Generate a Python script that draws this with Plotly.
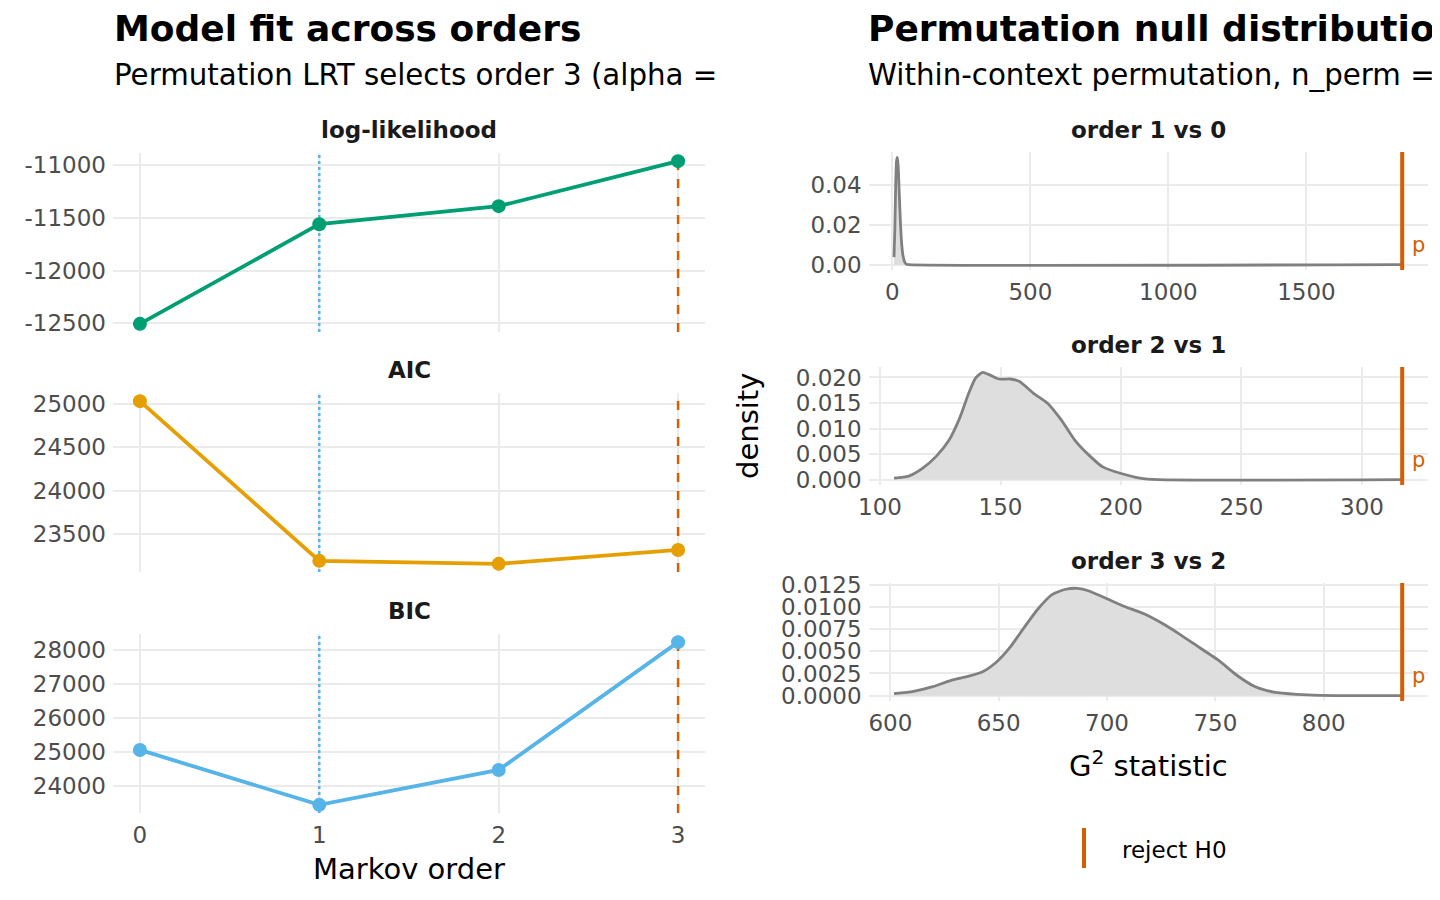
import plotly.graph_objects as go

# ---- left panel: model fit by Markov order ----
orders = [0, 1, 2, 3]
loglik = [-12505, -11560, -11389, -10962]
aic = [25035, 23189, 23154, 23315]
bic = [25059, 23441, 24470, 28235]
min_bic_order = 1
lrt_order = 3

# ---- right panel: permutation null densities ----
g_x_1v0 = [6, 9, 12, 15, 18, 21, 25, 29, 33, 38, 44, 50, 60, 1847]
g_d_1v0 = [0.0038, 0.018, 0.040, 0.052, 0.054, 0.050, 0.036, 0.022, 0.012, 0.005, 0.0015, 0.0003, 0.0, 0.0]

g_x_2v1 = [105.8, 111.9, 117.6, 123.4, 128.6, 133.0, 136.8, 139.7, 142.6, 145.5, 149.3, 154.1,
           157.9, 163.7, 169.4, 175.2, 180.9, 186.7, 192.4, 200.1, 207.8, 215.5, 316.7]
g_d_2v1 = [0.0003, 0.0007, 0.0022, 0.0046, 0.0077, 0.0120, 0.0169, 0.0199, 0.0210, 0.0205, 0.0197, 0.0197,
           0.0192, 0.0169, 0.0150, 0.0117, 0.0077, 0.0048, 0.0025, 0.0012, 0.0003, 0.0, 0.0]

g_x_3v2 = [601.7, 610.7, 619.2, 627.7, 636.2, 642.6, 649.0, 655.4, 661.8, 668.2, 674.6, 681.0, 686.4,
           691.7, 700.2, 708.7, 717.3, 725.8, 734.3, 742.8, 751.4, 759.9, 768.4, 777.0, 787.6, 798.3, 836.2]
g_d_3v2 = [0.00023, 0.00049, 0.00098, 0.0017, 0.0022, 0.0027, 0.0038, 0.0055, 0.0077, 0.0098, 0.0114, 0.0120,
           0.0121, 0.0118, 0.0109, 0.0100, 0.0092, 0.0081, 0.0068, 0.0054, 0.0040, 0.0023, 0.0010, 0.0004,
           0.00015, 0.00004, 0.0]

observed_g2 = [1847, 316.7, 836.2]
null_labels = ["order 1 vs 0", "order 2 vs 1", "order 3 vs 2"]

W, H = 1440, 900
OFF = 8  # page body margin shifts the div by 8px
FONT = "DejaVu Sans"
GRID = "#EBEBEB"
TICK = "#4D4D4D"
VERM = "#D55E00"


def px(x):
    return (x - OFF) / W


def py(y):
    return 1 - (y - OFF) / H


def pad(lo, hi):
    s = hi - lo
    return [lo - 0.05 * s, hi + 0.05 * s]


def note(text, x, y, size, color="black", xanchor="center", angle=0):
    fig.add_annotation(text=text, x=px(x), y=py(y), xref="paper", yref="paper",
                       xanchor=xanchor, yanchor="middle", showarrow=False, textangle=angle,
                       font=dict(family=FONT, size=size, color=color))


fig = go.Figure()

left_x = [px(113), px(705)]
right_x = [px(868.6), px(1427.6)]
left_rows = [(153, 332), (393, 572), (634, 813)]
right_rows = [(152, 270), (367, 485), (583, 701)]

left_series = [("log-likelihood", loglik, "#009E73"),
               ("AIC", aic, "#E69F00"),
               ("BIC", bic, "#56B4E9")]

axis_common = dict(showgrid=True, gridcolor=GRID, gridwidth=2, zeroline=False,
                   showline=False, ticks="", ticklabelstandoff=6, automargin=False,
                   tickfont=dict(family=FONT, size=23, color=TICK))

layout = {}
for i, (name, vals, col) in enumerate(left_series):
    n = i + 1
    xa = "x" if n == 1 else f"x{n}"
    ya = "y" if n == 1 else f"y{n}"
    top, bot = left_rows[i]
    yr = pad(min(vals), max(vals))
    layout["xaxis" if n == 1 else f"xaxis{n}"] = dict(
        axis_common, domain=left_x, anchor=ya, range=[-0.15, 3.15],
        tickvals=orders, showticklabels=(n == 3))
    layout["yaxis" if n == 1 else f"yaxis{n}"] = dict(
        axis_common, domain=[py(bot), py(top)], anchor=xa, range=yr)
    # reference lines: min-BIC order (dotted) and LRT-selected order (dashed)
    fig.add_trace(go.Scatter(x=[min_bic_order, min_bic_order], y=yr, mode="lines", xaxis=xa, yaxis=ya,
                             line=dict(color="#56B4E9", width=2.5, dash="dot"),
                             showlegend=False, hoverinfo="skip"))
    fig.add_trace(go.Scatter(x=[lrt_order, lrt_order], y=yr, mode="lines", xaxis=xa, yaxis=ya,
                             line=dict(color=VERM, width=2.5, dash="dash"),
                             showlegend=False, hoverinfo="skip"))
    fig.add_trace(go.Scatter(x=orders, y=vals, mode="lines+markers", xaxis=xa, yaxis=ya,
                             line=dict(color=col, width=3.8),
                             marker=dict(color=col, size=14), showlegend=False))
    note(f"<b>{name}</b>", 409, top - 23, 23, "#1A1A1A")

dens = [(g_x_1v0, g_d_1v0), (g_x_2v1, g_d_2v1), (g_x_3v2, g_d_3v2)]
for i, (gx, gd) in enumerate(dens):
    n = i + 4
    xa, ya = f"x{n}", f"y{n}"
    top, bot = right_rows[i]
    layout[f"xaxis{n}"] = dict(axis_common, domain=right_x, anchor=ya,
                               range=pad(min(gx), max(gx)))
    layout[f"yaxis{n}"] = dict(axis_common, domain=[py(bot), py(top)], anchor=xa,
                               range=pad(0, max(gd)))
    fig.add_trace(go.Scatter(x=gx, y=gd, mode="lines", xaxis=xa, yaxis=ya,
                             fill="tozeroy", fillcolor="#DEDEDE",
                             line=dict(color="#808080", width=2.8, shape="spline", smoothing=0.6),
                             showlegend=False))
    fig.add_shape(type="line", xref=xa, yref=f"{ya} domain", x0=observed_g2[i], x1=observed_g2[i],
                  y0=0, y1=1, line=dict(color=VERM, width=4))
    note("p", 1410, bot - 25, 21, VERM, xanchor="left")
    note(f"<b>{null_labels[i]}</b>", 1148, top - 22, 23, "#1A1A1A")

layout["yaxis"]["tickvals"] = [-12500, -12000, -11500, -11000]
layout["yaxis"]["ticktext"] = ["-12500", "-12000", "-11500", "-11000"]
layout["yaxis2"]["tickvals"] = [23500, 24000, 24500, 25000]
layout["yaxis2"]["ticktext"] = ["23500", "24000", "24500", "25000"]
layout["yaxis3"]["tickvals"] = [24000, 25000, 26000, 27000, 28000]
layout["yaxis3"]["ticktext"] = ["24000", "25000", "26000", "27000", "28000"]
layout["yaxis4"]["tickvals"] = [0, 0.02, 0.04]
layout["yaxis4"]["ticktext"] = ["0.00", "0.02", "0.04"]
layout["yaxis5"]["tickvals"] = [0, 0.005, 0.01, 0.015, 0.02]
layout["yaxis5"]["ticktext"] = ["0.000", "0.005", "0.010", "0.015", "0.020"]
layout["yaxis6"]["tickvals"] = [0, 0.0025, 0.005, 0.0075, 0.01, 0.0125]
layout["yaxis6"]["ticktext"] = ["0.0000", "0.0025", "0.0050", "0.0075", "0.0100", "0.0125"]
layout["xaxis4"]["tickvals"] = [0, 500, 1000, 1500]

fig.update_layout(**layout)

# titles and subtitles
note("<b>Model fit across orders</b>", 112, 28, 36, xanchor="left")
note("Permutation LRT selects order 3 (alpha =", 112, 75, 29.3, xanchor="left")
note("<b>Permutation null distribution</b>", 866, 28, 36, xanchor="left")
note("Within-context permutation, n_perm =", 866, 75, 29.3, xanchor="left")

# axis titles
note("Markov order", 409, 869, 29)
note("G<sup>2</sup> statistic", 1148, 764, 29)
note("density", 748, 426, 29, angle=-90)

# legend key
fig.add_shape(type="line", xref="paper", yref="paper", x0=px(1084), x1=px(1084),
              y0=py(868), y1=py(828), line=dict(color=VERM, width=4))
note("reject H0", 1120, 850, 23, xanchor="left")

fig.update_layout(width=W, height=H, margin=dict(l=0, r=0, t=0, b=0),
                  plot_bgcolor="white", paper_bgcolor="white", showlegend=False)

fig.write_html("out.html")
